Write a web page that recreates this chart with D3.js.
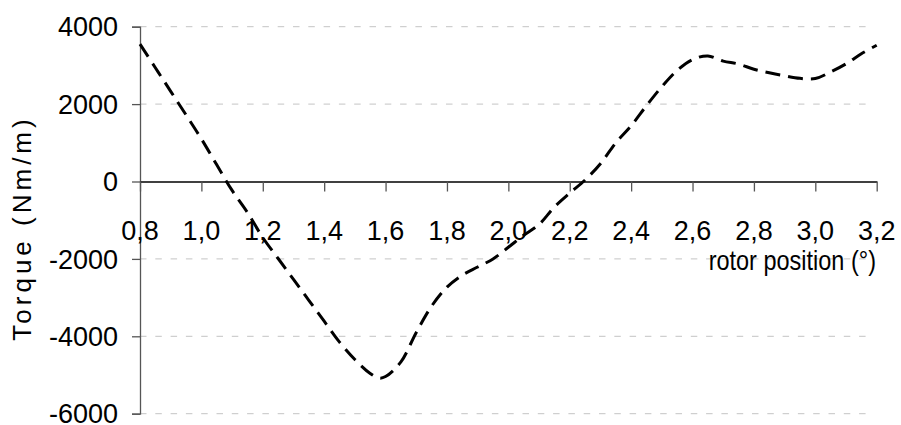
<!DOCTYPE html>
<html>
<head>
<meta charset="utf-8">
<script src="https://cdn.jsdelivr.net/npm/d3@7"></script>
<style>
  html, body { margin: 0; padding: 0; background: #fff; }
  svg { display: block; }
  text { font-family: "Liberation Sans", Arial, sans-serif; fill: #000; }
</style>
</head>
<body>
<svg id="chart" width="901" height="425"></svg>
<script>
// rotor position (degrees) and torque per unit length (Nm/m)
const position = [0.80, 0.85, 0.90, 0.95, 1.00, 1.05, 1.10, 1.15, 1.20, 1.25,
                  1.30, 1.35, 1.40, 1.45, 1.50, 1.55, 1.58, 1.60, 1.65, 1.70,
                  1.75, 1.80, 1.85, 1.90, 1.95, 2.00, 2.05, 2.10, 2.15, 2.20,
                  2.25, 2.30, 2.35, 2.40, 2.45, 2.50, 2.55, 2.60, 2.65, 2.70,
                  2.75, 2.80, 2.85, 2.90, 2.95, 3.00, 3.05, 3.10, 3.15, 3.20];
const torque = [3550, 2940, 2330, 1720, 1100, 430, -230, -800, -1450, -1990,
                -2530, -3070, -3610, -4150, -4600, -4960, -5080, -5040, -4660, -3900,
                -3220, -2730, -2420, -2210, -2000, -1700, -1390, -1110, -660, -300,
                40, 460, 1000, 1440, 1960, 2450, 2870, 3150, 3245, 3110,
                3035, 2900, 2810, 2730, 2665, 2660, 2830, 3040, 3300, 3520];

const xTicks = [0.8, 1.0, 1.2, 1.4, 1.6, 1.8, 2.0, 2.2, 2.4, 2.6, 2.8, 3.0, 3.2];
const xTickLabels = ["0,8", "1,0", "1,2", "1,4", "1,6", "1,8", "2,0", "2,2", "2,4", "2,6", "2,8", "3,0", "3,2"];
const yTicks = [-6000, -4000, -2000, 0, 2000, 4000];
const yTickLabels = ["-6000", "-4000", "-2000", "0", "2000", "4000"];

const xTitle = "rotor position (°)";
const yTitle = "Torque (Nm/m)";

const svg = d3.select("#chart");

const x = d3.scaleLinear().domain([0.8, 3.2]).range([140, 876.7]);
const y = d3.scaleLinear().domain([-6000, 4000]).range([413.7, 26.7]);

// horizontal dashed gridlines (the zero line is the x axis itself)
svg.append("g")
  .selectAll("line")
  .data(yTicks.filter(d => d !== 0))
  .join("line")
  .attr("x1", x(0.8)).attr("x2", x(3.2) - 6)
  .attr("y1", d => y(d)).attr("y2", d => y(d))
  .attr("stroke", "#c4c4c4")
  .attr("stroke-width", 1)
  .attr("stroke-dasharray", "6.5,8.8");

// y axis on the left
const yAxis = d3.axisLeft(y)
  .tickValues(yTicks)
  .tickSize(8)
  .tickPadding(14)
  .tickFormat((d, i) => yTickLabels[i]);

const gy = svg.append("g")
  .attr("transform", `translate(${x(0.8)},0)`)
  .call(yAxis);
gy.select(".domain").attr("stroke", "#555").attr("stroke-width", 1.3);
gy.selectAll(".tick line").attr("stroke", "#555").attr("stroke-width", 1.3);
gy.selectAll(".tick text")
  .style("font-family", "'Liberation Sans', Arial, sans-serif")
  .style("font-size", "27px")
  .attr("dy", "0.34em")
  .attr("fill", "#000");

// x axis through zero, ticks hanging below, labels drawn a little lower
const xAxis = d3.axisBottom(x)
  .tickValues(xTicks)
  .tickSize(10)
  .tickSizeOuter(0)
  .tickFormat("");

const gx = svg.append("g")
  .attr("transform", `translate(0,${y(0)})`)
  .call(xAxis);
gx.select(".domain").attr("stroke", "#000").attr("stroke-width", 1.5);
gx.selectAll(".tick line").attr("stroke", "#555").attr("stroke-width", 1.3);

svg.append("g")
  .selectAll("text")
  .data(xTicks)
  .join("text")
  .attr("x", d => x(d))
  .attr("y", 240)
  .attr("text-anchor", "middle")
  .style("font-size", "27px")
  .text((d, i) => xTickLabels[i]);

// torque curve
const line = d3.line()
  .x((d, i) => x(position[i]))
  .y(d => y(d))
  .curve(d3.curveCatmullRom.alpha(0.5));

svg.append("path")
  .datum(torque)
  .attr("d", line)
  .attr("fill", "none")
  .attr("stroke", "#000")
  .attr("stroke-width", 3)
  .attr("stroke-dasharray", "15,8");

// axis titles
svg.append("text")
  .attr("transform", "translate(876,270) scale(1,1.15)")
  .attr("text-anchor", "end")
  .style("font-size", "23.5px")
  .text(xTitle);

svg.append("text")
  .attr("transform", "translate(31,228) rotate(-90)")
  .attr("text-anchor", "middle")
  .style("font-size", "26px")
  .style("letter-spacing", "4px")
  .text(yTitle);
</script>
</body>
</html>
